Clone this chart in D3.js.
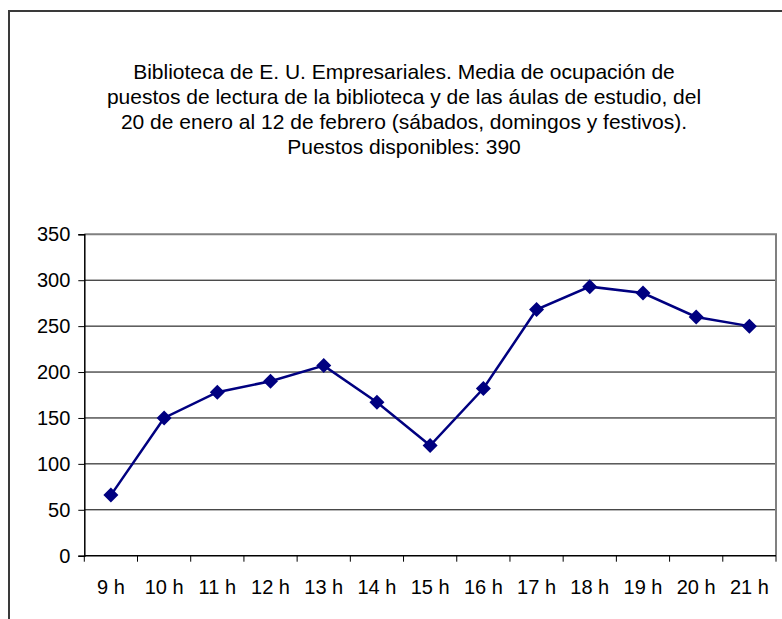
<!DOCTYPE html>
<html>
<head>
<meta charset="utf-8">
<script src="https://cdn.jsdelivr.net/npm/d3@7"></script>
<style>
  html, body { margin: 0; padding: 0; background: #fff; }
  svg text { font-family: "Liberation Sans", Arial, sans-serif; fill: #000; }
</style>
</head>
<body>
<svg id="chart" width="782" height="619"></svg>
<script>
// Hourly occupancy of reading seats (weekends and holidays)
const hours = ["9 h", "10 h", "11 h", "12 h", "13 h", "14 h", "15 h", "16 h", "17 h", "18 h", "19 h", "20 h", "21 h"];
const occupancy = [66, 150, 178, 190, 207, 167, 120, 182, 268, 293, 286, 260, 250];
const yTicks = [0, 50, 100, 150, 200, 250, 300, 350];
const titleLines = [
  "Biblioteca de E. U. Empresariales. Media de ocupación de",
  "puestos de lectura de la biblioteca y de las áulas de estudio, del",
  "20 de enero al 12 de febrero (sábados, domingos y festivos).",
  "Puestos disponibles: 390"
];

const svg = d3.select("#chart");
const plot = { left: 84.3, right: 776, top: 234.3, bottom: 555.7 };

// Outer chart frame
svg.append("path")
  .attr("d", "M9,619V11H782")
  .attr("fill", "none")
  .attr("stroke", "#3a3a3a")
  .attr("stroke-width", 2);

// Title
svg.append("g")
  .selectAll("text")
  .data(titleLines)
  .join("text")
  .attr("x", 404)
  .attr("y", (d, i) => 79 + i * 25)
  .attr("text-anchor", "middle")
  .attr("font-size", 21)
  .text(d => d);

const x = d3.scaleBand().domain(hours).range([plot.left, plot.right]);
const y = d3.scaleLinear().domain([0, 350]).range([plot.bottom, plot.top]);

// Horizontal gridlines
svg.append("g")
  .selectAll("line")
  .data(yTicks.filter(v => v > 0 && v < 350))
  .join("line")
  .attr("x1", plot.left).attr("x2", plot.right)
  .attr("y1", d => y(d)).attr("y2", d => y(d))
  .attr("stroke", "#000")
  .attr("stroke-width", 1);

// Plot area border (top and right)
svg.append("path")
  .attr("d", `M${plot.left},${y(350)}H${plot.right}V${plot.bottom}`)
  .attr("fill", "none")
  .attr("stroke", "#808080")
  .attr("stroke-width", 2);

// Y axis
const yAxis = svg.append("g")
  .attr("transform", `translate(${plot.left},0)`)
  .call(d3.axisLeft(y).tickValues(yTicks).tickSize(6).tickPadding(8).tickFormat(d3.format("d")));
yAxis.select(".domain").attr("stroke", "#000").attr("stroke-width", 1.5);
yAxis.selectAll(".tick line").attr("stroke", "#000").attr("stroke-width", 1);
yAxis.selectAll(".tick text")
  .attr("font-size", 20)
  .attr("font-family", "Liberation Sans, Arial, sans-serif")
  .attr("fill", "#000");

// X axis: labels centered in each category, ticks at category boundaries
const xAxis = svg.append("g")
  .attr("transform", `translate(0,${plot.bottom})`)
  .call(d3.axisBottom(x).tickSize(0).tickPadding(24));
xAxis.select(".domain").remove();
xAxis.selectAll(".tick text")
  .attr("font-size", 20)
  .attr("font-family", "Liberation Sans, Arial, sans-serif")
  .attr("fill", "#000");

svg.append("line")
  .attr("x1", plot.left).attr("x2", plot.right)
  .attr("y1", plot.bottom).attr("y2", plot.bottom)
  .attr("stroke", "#000").attr("stroke-width", 1.5);

svg.append("g")
  .selectAll("line")
  .data(hours.map(h => x(h)).concat([plot.right]))
  .join("line")
  .attr("x1", d => d).attr("x2", d => d)
  .attr("y1", plot.bottom).attr("y2", plot.bottom + 6)
  .attr("stroke", "#000").attr("stroke-width", 1);

// Series line
const pts = hours.map((h, i) => [x(h) + x.bandwidth() / 2, y(occupancy[i])]);
svg.append("path")
  .attr("d", d3.line()(pts))
  .attr("fill", "none")
  .attr("stroke", "#000080")
  .attr("stroke-width", 2.5);

// Diamond markers
svg.append("g")
  .selectAll("path")
  .data(pts)
  .join("path")
  .attr("transform", d => `translate(${d[0]},${d[1]})`)
  .attr("d", "M0,-7.5L7.5,0L0,7.5L-7.5,0Z")
  .attr("fill", "#000080");
</script>
</body>
</html>
